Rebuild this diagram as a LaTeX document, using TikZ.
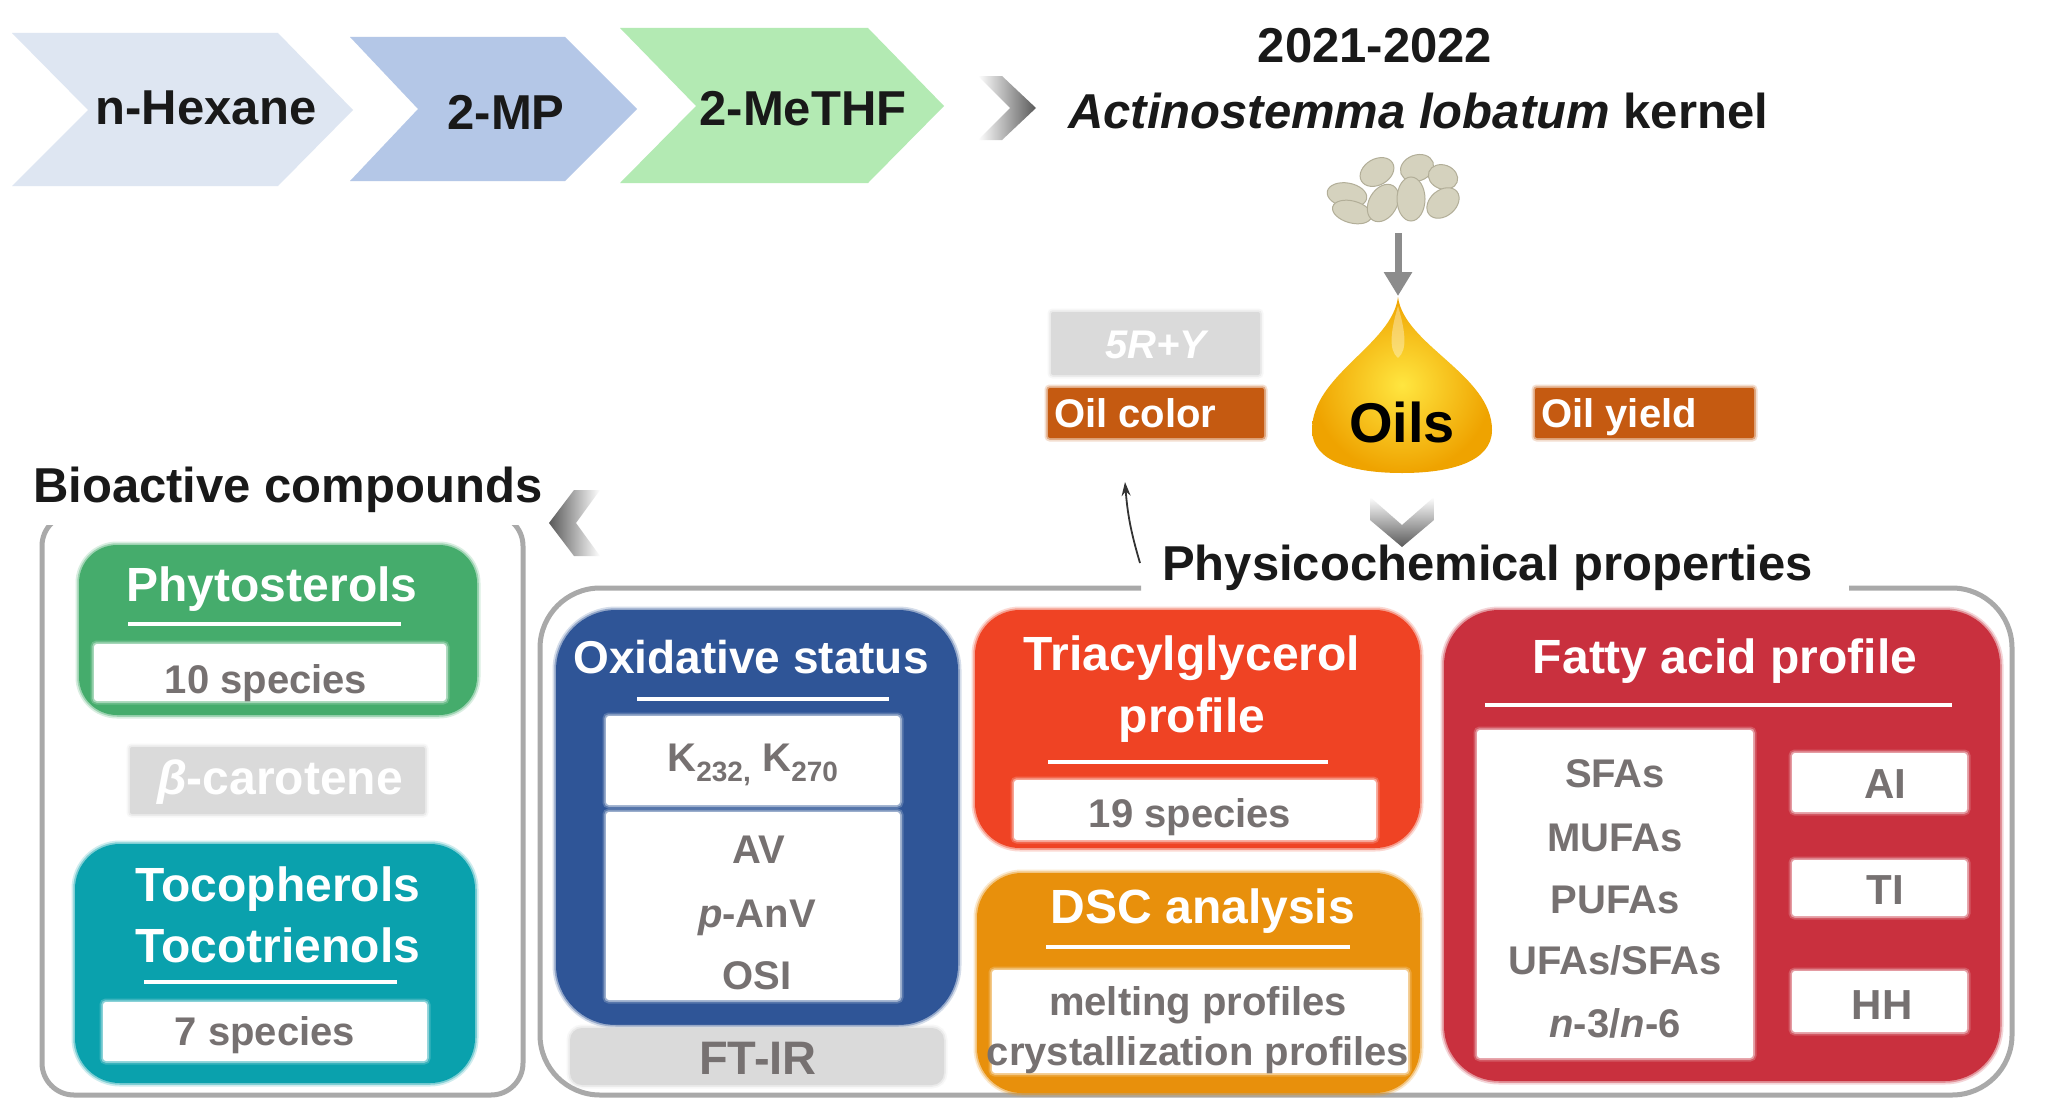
\documentclass[tikz,border=0pt]{standalone}
\usepackage{fontspec}
\setmainfont{Liberation Sans}
\usetikzlibrary{arrows.meta,fit}

\definecolor{hexblue}{HTML}{DEE6F2}
\definecolor{mpblue}{HTML}{B4C7E7}
\definecolor{thfgreen}{HTML}{B3EAB3}
\definecolor{sterolgreen}{HTML}{45AC6C}
\definecolor{tocoteal}{HTML}{0AA1AD}
\definecolor{oxblue}{HTML}{2F5597}
\definecolor{tagred}{HTML}{EF4324}
\definecolor{dscorange}{HTML}{E8900C}
\definecolor{fattyred}{HTML}{C9303E}
\definecolor{oilbrown}{HTML}{C55A11}
\definecolor{softgray}{HTML}{DADADA}
\definecolor{framegray}{HTML}{A9A9A9}
\definecolor{txtgray}{HTML}{767171}
\definecolor{seedfill}{HTML}{D5D2BE}
\definecolor{seedline}{HTML}{B2AE98}
\definecolor{dropin}{HTML}{FFE640}
\definecolor{dropout}{HTML}{EFA300}

\newcommand\toptxt{\fontsize{49}{54}\selectfont\bfseries}
\newcommand\ttltxt{\fontsize{48}{52}\selectfont\bfseries}
\newcommand\itmtxt{\fontsize{40}{44}\selectfont\bfseries}
\newcommand\idxtxt{\fontsize{42}{46}\selectfont\bfseries}

\tikzset{
  panel/.style={fill=#1, inner sep=0pt, outer sep=0pt,
    preaction={draw=#1, line width=7pt, draw opacity=.2},
    preaction={draw=#1, line width=3.5pt, draw opacity=.4}},
  slip/.style={panel=white, rounded corners=3pt},
  tag/.style={panel=#1, rounded corners=2pt},
  frame/.style={draw=framegray, line width=5pt},
  rule/.style={draw=white, line width=4.5pt},
  head/.style={inner sep=0pt, anchor=base, font=\toptxt, text=black!90},
  ttl/.style={inner sep=0pt, anchor=base, font=\ttltxt, text=white},
  itm/.style={inner sep=0pt, anchor=base, font=\itmtxt, text=txtgray},
  seed/.style={fill=seedfill, draw=seedline, line width=1pt}
}

\begin{document}
\begin{tikzpicture}[x=1pt, y=-1pt]

\useasboundingbox (0,0) rectangle (2050,1116);
\fill[white] (0,0) rectangle (2050,1116);

% solvents
\fill[hexblue] (12,33) -- (278,33) -- (353,110) -- (278,186) -- (12,186) -- (88,110) -- cycle;
\fill[mpblue] (350,37) -- (565,37) -- (637,109) -- (565,181) -- (350,181) -- (418,109) -- cycle;
\fill[thfgreen] (620,28) -- (868,28) -- (944,106) -- (868,183) -- (620,183) -- (696,106) -- cycle;
\node[head] (hexane) at (206,124) {n-Hexane};
\node[head] (mp) at (506,129) {2-MP};
\node[head] (methf) at (803,125) {2-MeTHF};
\shade[left color=white, right color=black!65] (978,76) -- (1002,76) -- (1036,108) -- (1002,140) -- (978,140) -- (1010,108) -- cycle;

% kernel and oil
\node[head] (years) at (1375,63) {2021-2022};
\node[head] (kernel) at (1418,128) {\textit{Actinostemma lobatum} kernel};
\filldraw[seed, rotate around={-10:(1347,195)}] (1347,195) ellipse [x radius=20, y radius=12];
\filldraw[seed, rotate around={-15:(1352,212)}] (1352,212) ellipse [x radius=20, y radius=11];
\filldraw[seed, rotate around={30:(1377,172)}] (1377,172) ellipse [x radius=18, y radius=13];
\filldraw[seed, rotate around={60:(1383,203)}] (1383,203) ellipse [x radius=20, y radius=14];
\filldraw[seed, rotate around={20:(1417,168)}] (1417,168) ellipse [x radius=17, y radius=13];
\filldraw[seed] (1411,199) ellipse [x radius=14, y radius=22];
\filldraw[seed, rotate around={-20:(1443,177)}] (1443,177) ellipse [x radius=15, y radius=12];
\filldraw[seed, rotate around={40:(1443,203)}] (1443,203) ellipse [x radius=18, y radius=13];
\coordinate (seedfoot) at (1398,233);
\coordinate (droptip) at (1398,296);
\draw[line width=7pt, draw=black!45, -{Triangle[length=24pt,width=27pt]}] (seedfoot) -- (droptip);

\shade[inner color=dropin, outer color=dropout] (1398,297)
  .. controls (1404,345) and (1492,375) .. (1492,430)
  .. controls (1492,462) and (1450,473) .. (1402,473)
  .. controls (1354,473) and (1312,462) .. (1312,430)
  .. controls (1312,375) and (1392,345) .. (1398,297) -- cycle;
\fill[white, opacity=.35] (1398,306) .. controls (1391,330) and (1388,350) .. (1398,358)
  .. controls (1408,350) and (1405,330) .. (1398,306) -- cycle;
\node[inner sep=0pt, anchor=base, font=\fontsize{56}{60}\selectfont\bfseries] (oils) at (1402,442) {Oils};

\node[tag=softgray, fit={(1051,312) (1260,375)}] (colorbox) {};
\node[inner sep=0pt, anchor=base, font=\fontsize{40}{44}\selectfont\bfseries\itshape, text=white] (ry) at (1156,358) {5R+Y};
\node[tag=oilbrown, fit={(1048,388) (1264,438)}] (oilcolorbox) {};
\node[inner sep=0pt, anchor=base west, font=\itmtxt, text=white] (oilcolor) at (1054,427) {Oil color};
\node[tag=oilbrown, fit={(1535,388) (1754,438)}] (oilyieldbox) {};
\node[inner sep=0pt, anchor=base west, font=\itmtxt, text=white] (oilyield) at (1541,427) {Oil yield};

\shade[top color=white, bottom color=black!65] (1370,497) -- (1402,525) -- (1434,497) -- (1434,520) -- (1402,547) -- (1370,520) -- cycle;
\coordinate (phystail) at (1140,563);
\coordinate (colorhead) at (1125,482);
\draw[line width=1.8pt, black!80, -{Stealth[length=14pt,width=9pt]}] (phystail) to[bend left=6] (colorhead);

% frames
\node[head, anchor=base west] (physchem) at (1162,580) {Physicochemical properties};
\draw[frame, rounded corners=60pt] (1141,588) -- (540,588) -- (540,1095) -- (2012,1095) -- (2012,588) -- (1849,588);
\node[head, anchor=base west] (bioact) at (33,502) {Bioactive compounds};
\shade[left color=black!65, right color=white] (574,490) -- (600,490) -- (576,523) -- (600,556) -- (574,556) -- (549,523) -- cycle;
\begin{scope}
  \clip (0,525) rectangle (600,1116);
  \draw[frame, rounded corners=32pt] (42,514) rectangle (523,1095);
\end{scope}

% bioactive compounds
\node[panel=sterolgreen, rounded corners=38pt, fit={(79,545) (477,715)}] (sterolbox) {};
\node[ttl] (sterol) at (272,601) {Phytosterols};
\draw[rule] (128,624) -- (401,624);
\node[slip, fit={(94,644) (446,701)}] (sterolslip) {};
\node[itm] (sterolnum) at (266,693) {10 species};
\node[tag=softgray, fit={(130,747) (425,814)}] (carotbox) {};
\node[ttl] (carot) at (280,794) {\textit{β}-carotene};
\node[panel=tocoteal, rounded corners=45pt, fit={(75,844) (475,1083)}] (tocobox) {};
\node[ttl] (tocoph) at (278,901) {Tocopherols};
\node[ttl] (tocotr) at (278,962) {Tocotrienols};
\draw[rule] (144,982) -- (397,982);
\node[slip, fit={(103,1002) (427,1061)}] (tocoslip) {};
\node[itm] (toconum) at (265,1045) {7 species};

% oxidative status
\node[panel=oxblue, rounded corners=60pt, fit={(556,610) (958,1025)}] (oxbox) {};
\node[ttl, font=\fontsize{46}{50}\selectfont\bfseries] (oxid) at (751,673) {Oxidative status};
\draw[rule] (637,699) -- (889,699);
\node[slip, fit={(606,716) (900,805)}] (kslip) {};
\node[itm] (kval) at (753,771) {K\textsubscript{232,} K\textsubscript{270}};
\node[slip, fit={(606,812) (900,1000)}] (avslip) {};
\node[itm] (av) at (759,863) {AV};
\node[itm] (panv) at (757,927) {\textit{p}-AnV};
\node[itm] (osi) at (757,989) {OSI};
\node[tag=softgray, rounded corners=12pt, fit={(570,1028) (944,1085)}] (ftirbox) {};
\node[inner sep=0pt, anchor=base, font=\fontsize{47}{50}\selectfont\bfseries, text=txtgray] (ftir) at (758,1074) {FT-IR};

% triacylglycerol and DSC
\node[panel=tagred, rounded corners=45pt, fit={(975,610) (1420,848)}] (tagbox) {};
\node[ttl] (tag1) at (1192,670) {Triacylglycerol};
\node[ttl] (tag2) at (1192,732) {profile};
\draw[rule] (1048,762) -- (1328,762);
\node[slip, fit={(1014,780) (1376,840)}] (tagslip) {};
\node[itm] (tagnum) at (1190,827) {19 species};
\node[panel=dscorange, rounded corners=45pt, fit={(977,873) (1420,1093)}] (dscbox) {};
\node[ttl] (dsc) at (1203,923) {DSC analysis};
\draw[rule] (1046,947) -- (1350,947);
\node[slip, fit={(992,970) (1408,1073)}] (dscslip) {};
\node[itm] (melt) at (1198,1015) {melting profiles};
\node[itm] (cryst) at (1198,1065) {crystallization profiles};

% fatty acids
\node[panel=fattyred, rounded corners=55pt, fit={(1444,610) (2000,1081)}] (fabox) {};
\node[ttl] (fatty) at (1725,673) {Fatty acid profile};
\draw[rule] (1485,705) -- (1952,705);
\node[slip, fit={(1477,730) (1753,1058)}] (faslip) {};
\node[itm] (sfa) at (1615,787) {SFAs};
\node[itm] (mufa) at (1615,851) {MUFAs};
\node[itm] (pufa) at (1615,913) {PUFAs};
\node[itm] (ratio) at (1615,974) {UFAs/SFAs};
\node[itm] (omega) at (1615,1037) {\textit{n}-3/\textit{n}-6};
\node[slip, fit={(1792,753) (1967,812)}] (aislip) {};
\node[itm, font=\idxtxt] (ai) at (1885,798) {AI};
\node[slip, fit={(1792,860) (1967,916)}] (tislip) {};
\node[itm, font=\idxtxt] (ti) at (1885,904) {TI};
\node[slip, fit={(1792,971) (1967,1032)}] (hhslip) {};
\node[itm, font=\idxtxt] (hh) at (1882,1019) {HH};

\end{tikzpicture}
\end{document}
